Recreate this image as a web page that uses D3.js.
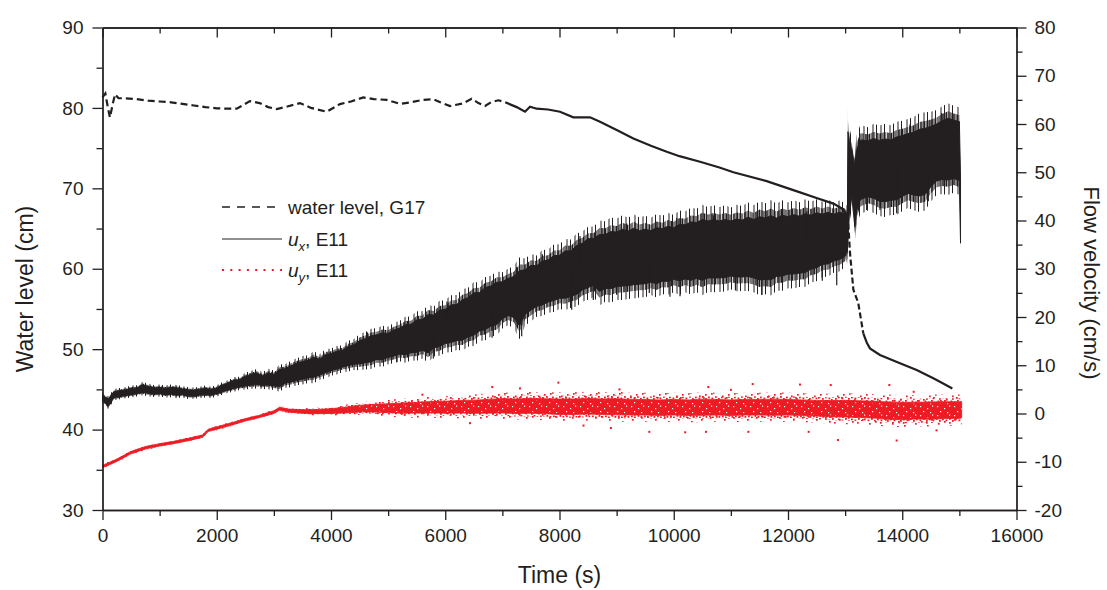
<!DOCTYPE html>
<html>
<head>
<meta charset="utf-8">
<script src="https://cdn.jsdelivr.net/npm/d3@7"></script>
<style>
  html, body { margin: 0; padding: 0; background: #fff; }
  svg { display: block; font-family: "Liberation Sans", Arial, Helvetica, sans-serif; }
</style>
</head>
<body>
<svg id="chart" width="1107" height="590"></svg>
<script>
// ---------------- data ----------------
const timeTicks = [0, 2000, 4000, 6000, 8000, 10000, 12000, 14000, 16000];
const timeMinorTicks = [1000, 3000, 5000, 7000, 9000, 11000, 13000, 15000];
const levelTicks = [30, 40, 50, 60, 70, 80, 90];
const levelMinorTicks = [35, 45, 55, 65, 75, 85];
const velocityTicks = [-20, -10, 0, 10, 20, 30, 40, 50, 60, 70, 80];
const velocityMinorTicks = [-15, -5, 5, 15, 25, 35, 45, 55, 65, 75];

// water level at gauge G17 (cm)
const levelTime = [0, 50, 90, 130, 180, 220, 280, 400, 600, 800, 1000, 1200, 1400, 1600, 1800, 2000,
  2200, 2350, 2450, 2580, 2750, 2900, 3050, 3250, 3457, 3650, 3925, 4157, 4350, 4566, 4750, 4975,
  5208, 5400, 5600, 5791, 5950, 6083, 6316, 6462, 6580, 6696, 6800, 6929, 7050, 7250, 7396, 7484,
  7600, 7800, 8009, 8242, 8534, 8700, 9001, 9293, 9600, 9877, 10100, 10460, 10800, 11044, 11627,
  12210, 12500, 12794, 12969, 13020, 13056, 13086, 13144, 13202, 13231, 13318, 13380, 13435, 13610,
  13960, 14252, 14544, 14700, 14877];
const levelValue = [81.3, 81.8, 80.2, 78.8, 80.5, 81.7, 81.2, 81.2, 81.1, 80.9, 80.8, 80.7, 80.5, 80.3, 80.1, 79.95,
  79.9, 79.9, 80.3, 80.85, 80.6, 80.1, 79.86, 80.2, 80.6, 80.0, 79.53, 80.48, 80.8, 81.3, 81.1, 81.0,
  80.5, 80.7, 81.0, 81.07, 80.6, 80.24, 80.57, 81.15, 80.6, 80.24, 80.7, 80.95, 80.7, 80.1, 79.53, 80.15,
  79.9, 79.8, 79.53, 78.83, 78.83, 78.3, 77.25, 76.2, 75.3, 74.55, 74.0, 73.3, 72.6, 72.0, 70.9,
  69.5, 68.8, 68.1, 67.4, 66.7, 65.5, 61.9, 57.4, 56.3, 55.7, 51.97, 50.8, 50.1, 49.27,
  48.24, 47.4, 46.37, 45.8, 45.12];

// streamwise velocity u_x at E11 (cm/s): lower / upper edge of the fluctuation band
const uxTime = [0, 100, 200, 300, 400, 500, 600, 700, 800, 900, 1000, 1100, 1200, 1300, 1400, 1500,
  1600, 1700, 1800, 1900, 2000, 2100, 2200, 2300, 2400, 2500, 2600, 2700, 2800, 2900, 3000, 3100,
  3200, 3300, 3400, 3500, 3600, 3700, 3800, 3900, 4000, 4100, 4200, 4300, 4400, 4500, 4600, 4700,
  4800, 4900, 5000, 5100, 5200, 5300, 5400, 5500, 5600, 5700, 5800, 5900, 6000, 6100, 6200, 6300,
  6400, 6500, 6600, 6700, 6800, 6900, 7000, 7100, 7200, 7300, 7400, 7500, 7600, 7700, 7800, 7900,
  8000, 8100, 8200, 8300, 8400, 8500, 8600, 8700, 8800, 8900, 9000, 9100, 9200, 9300, 9400, 9500,
  9600, 9700, 9800, 9900, 10000, 10100, 10200, 10300, 10400, 10500, 10600, 10700, 10800, 10900,
  11000, 11100, 11200, 11300, 11400, 11500, 11600, 11700, 11800, 11900, 12000, 12100, 12200, 12300,
  12400, 12500, 12600, 12700, 12800, 12900, 13000, 13040, 13050, 13080, 13120, 13170, 13200, 13260,
  13300, 13400, 13500, 13600, 13700, 13800, 13900, 14000, 14100, 14200, 14300, 14400, 14500, 14600,
  14700, 14800, 14900, 15000, 15020];
const uxHigh = [3.9, 2.9, 4.5, 4.7, 4.9, 5.2, 5.3, 5.9, 5.6, 5.3, 5.4, 5.2, 5.4, 5.3, 5.1, 4.9,
  4.8, 5.0, 5.2, 5.0, 5.3, 5.9, 6.3, 6.9, 7.0, 7.7, 8.1, 8.4, 7.8, 8.4, 8.1, 9.1,
  9.3, 9.9, 10.4, 10.8, 11.0, 11.7, 11.2, 12.2, 12.4, 12.9, 13.1, 13.9, 14.2, 15.1, 15.5, 16.1,
  16.3, 16.7, 16.6, 17.3, 17.7, 18.4, 18.5, 19.4, 19.5, 20.5, 20.4, 21.4, 21.6, 22.5, 22.6, 23.6,
  24.0, 25.0, 25.1, 26.1, 26.4, 27.2, 27.3, 28.0, 28.4, 29.6, 29.8, 30.7, 30.6, 31.6, 31.8, 32.7,
  32.8, 33.7, 33.7, 34.8, 35.3, 36.2, 36.3, 37.1, 37.1, 37.7, 37.6, 38.2, 37.8, 38.4, 37.9, 38.2,
  37.9, 38.5, 38.3, 38.8, 38.5, 39.2, 39.1, 39.7, 39.6, 40.2, 39.9, 40.2, 39.9, 40.2,
  39.9, 40.3, 40.1, 40.7, 40.2, 40.8, 40.5, 41.0, 40.5, 41.1, 40.8, 41.2, 40.9, 41.4,
  41.1, 41.6, 41.3, 41.7, 41.3, 41.7, 41.4, 41.0, 58.4, 55.8, 54.6, 51.2, 54.5, 56.6,
  56.7, 56.5, 57.0, 56.6, 56.9, 56.7, 57.3, 57.6, 58.0, 58.3, 58.9, 59.1, 59.5, 60.0,
  60.7, 61.2, 60.8, 60.5, 48.5];
const uxLow = [2.7, 1.5, 3.3, 3.5, 3.7, 3.9, 4.1, 4.4, 4.2, 4.0, 4.1, 3.9, 4.0, 3.8, 3.9, 3.6,
  3.6, 3.8, 3.9, 3.8, 4.1, 4.5, 4.9, 5.2, 5.5, 5.7, 5.9, 6.0, 5.8, 5.9, 5.7, 5.6,
  6.3, 6.5, 6.9, 7.1, 7.4, 7.5, 8.0, 8.4, 8.9, 9.2, 9.6, 9.9, 10.2, 10.3, 10.5, 10.7,
  11.2, 11.2, 11.6, 11.9, 12.3, 12.2, 12.6, 12.7, 13.1, 12.6, 13.6, 13.9, 14.5, 14.7, 15.1, 15.2,
  15.9, 16.2, 17.1, 17.4, 18.1, 18.4, 19.6, 20.3, 19.9, 18.2, 20.6, 21.4, 22.2, 22.5, 23.1, 23.4,
  23.9, 23.9, 24.3, 24.7, 25.6, 26.1, 26.6, 25.3, 25.9, 25.9, 26.3, 26.4, 26.5, 26.7, 26.8, 26.9,
  27.2, 26.9, 27.4, 27.4, 27.8, 27.5, 27.9, 27.6, 28.0, 27.6, 28.1, 28.1, 28.1, 28.2,
  28.5, 28.3, 28.3, 28.4, 28.1, 27.7, 27.8, 27.7, 28.4, 28.5, 28.9, 28.9, 29.1, 29.2,
  29.9, 30.2, 30.9, 31.0, 31.6, 31.9, 32.6, 34.0, 36.0, 43.0, 44.9, 38.7, 42.0, 44.2,
  44.5, 44.9, 44.6, 44.0, 43.9, 44.2, 44.3, 45.0, 45.6, 45.3, 45.1, 45.4, 47.0, 48.2,
  48.5, 48.4, 48.7, 48.3, 35.3];
// isolated u_x peaks beyond the band
const uxSpikeTime = [4640, 5150, 5791, 6030, 6820, 7250, 7338, 7700, 8213, 8359, 8592, 9000, 9176, 9572,
  9934, 10052, 10110, 10693, 11080, 11540, 11900, 12328, 12600, 12853, 13377, 13610, 13902, 14135,
  14456, 14486, 14690, 14880];
const uxSpikeValue = [16.8, 10.6, 11.4, 23.2, 15.7, 30.3, 16.0, 33.0, 21.5, 36.8, 23.5, 24.6, 39.4, 25.0,
  24.2, 40.5, 24.3, 41.1, 25.5, 24.6, 41.8, 41.9, 27.5, 26.6, 42.2, 42.2, 41.5, 59.9,
  44.0, 60.9, 62.3, 61.8];

// transverse velocity u_y at E11 (cm/s): centre and half spread of the scatter
const uyTime = [0, 250, 500, 750, 1000, 1250, 1500, 1750, 1850, 2000, 2250, 2500, 2750, 3000, 3100, 3250,
  3500, 3750, 4000, 4250, 4500, 4750, 5000, 5250, 5500, 5750, 6000, 6250, 6500, 6750, 7000, 7250,
  7500, 7750, 8000, 8250, 8500, 8750, 9000, 9250, 9500, 9750, 10000, 10250, 10500, 10750, 11000,
  11250, 11500, 11750, 12000, 12250, 12500, 12750, 13000, 13250, 13500, 13750, 14000, 14250, 14500,
  14750, 15000, 15040];
const uyMid = [-11.0, -9.7, -8.1, -7.1, -6.5, -6.0, -5.4, -4.7, -3.5, -3.0, -2.2, -1.3, -0.6, 0.3, 1.0, 0.6,
  0.4, 0.4, 0.5, 0.7, 1.0, 1.1, 1.1, 1.1, 1.2, 1.3, 1.3, 1.4, 1.4, 1.5, 1.6, 1.5,
  1.6, 1.5, 1.4, 1.4, 1.5, 1.4, 1.4, 1.3, 1.3, 1.2, 1.3, 1.2, 1.3, 1.3, 1.2,
  1.3, 1.3, 1.3, 1.3, 1.2, 1.1, 1.0, 1.0, 0.9, 0.8, 0.6, 0.5, 0.6, 0.6,
  0.7, 0.7, 0.8];
const uySpread = [0.4, 0.4, 0.4, 0.4, 0.4, 0.4, 0.4, 0.4, 0.4, 0.4, 0.4, 0.4, 0.4, 0.45, 0.5, 0.5,
  0.6, 0.7, 0.8, 0.95, 1.1, 1.3, 1.5, 1.7, 1.8, 1.9, 2.0, 2.1, 2.2, 2.3, 2.4, 2.4,
  2.5, 2.5, 2.6, 2.6, 2.6, 2.6, 2.7, 2.6, 2.6, 2.6, 2.6, 2.6, 2.7, 2.6, 2.6,
  2.6, 2.6, 2.7, 2.6, 2.6, 2.6, 2.7, 2.8, 2.8, 2.8, 2.9, 2.9, 2.8, 2.9,
  2.8, 2.8, 2.7];
const uyOutlierTime = [5600, 6433, 6823, 7308, 7980, 8420, 8900, 9050, 9572, 10200, 10565, 10605, 11000,
  11306, 11382, 12210, 12362, 12748, 12875, 13774, 13902, 14200, 14600];
const uyOutlierValue = [3.9, -2.0, 5.5, 5.2, 6.4, -2.5, -3.0, 5.0, -3.8, -3.9, -3.8, 5.5, 4.9,
  -3.8, 6.1, 6.0, -3.8, 5.9, -5.5, 5.9, -5.6, 4.5, -3.5];

// ---------------- layout ----------------
const ink = "#231f20";
const red = "#ed1c24";
const plot = { left: 102.5, right: 1016.5, top: 27.5, bottom: 510 };

const svg = d3.select("#chart");
const x = d3.scaleLinear().domain([0, 16000]).range([plot.left, plot.right]);
const yL = d3.scaleLinear().domain([30, 90]).range([plot.bottom, plot.top]);
const yR = d3.scaleLinear().domain([-20, 80]).range([plot.bottom, plot.top]);

// ---- textures ----
const defs = svg.append("defs");
function dotPattern(id, w, h, pts, color, size) {
  const p = defs.append("pattern").attr("id", id)
    .attr("patternUnits", "userSpaceOnUse").attr("width", w).attr("height", h);
  pts.forEach(([px, py]) => p.append("rect").attr("x", px).attr("y", py)
    .attr("width", size).attr("height", size).attr("fill", color));
}
// sparse red specks for the fringe of the u_y cloud
dotPattern("speckOuter", 23, 17,
  [[0, 1], [7, 0], [15, 3], [20, 9], [3, 8], [11, 11], [18, 15], [6, 14], [13, 6], [1, 13], [9, 4.5], [21, 2]],
  red, 1.7);
// denser red specks for the middle layer
dotPattern("speckInner", 13, 11,
  [[0, 0], [3, 2], [6, 0.5], [9.5, 1.5], [1.5, 4.5], [5, 5.5], [8, 4], [11, 6], [0.5, 8], [3.5, 9],
   [7, 8.5], [10, 9.5]], red, 1.8);
// white pinholes inside the dense core
dotPattern("pinholes", 17, 9,
  [[2, 1], [9, 3], [14, 0.5], [5, 6], [12, 7]], "#fff", 1.2);

// vertical hairs along the edges of the u_x band
function hairPattern(id, w, xs) {
  const p = defs.append("pattern").attr("id", id)
    .attr("patternUnits", "userSpaceOnUse").attr("width", w).attr("height", 4);
  xs.forEach(px => p.append("rect").attr("x", px).attr("y", 0)
    .attr("width", 1).attr("height", 4).attr("fill", ink));
}
hairPattern("hairDense", 11, [0, 1.6, 3.4, 4.6, 6.8, 8.2, 9.6]);
hairPattern("hairSparse", 17, [0, 5.5, 9, 13.5]);

const marks = svg.append("g");

// u_y scatter: speckled fringe, denser middle layer, solid core
const uyIdx = d3.range(uyTime.length);
const uyBand = f => d3.area()
  .x(i => x(uyTime[i]))
  .y0(i => yR(uyMid[i] - uySpread[i] * f))
  .y1(i => yR(uyMid[i] + uySpread[i] * f));
marks.append("path").datum(uyIdx).attr("fill", "url(#speckOuter)").attr("d", uyBand(1.15));
marks.append("path").datum(uyIdx).attr("fill", "url(#speckInner)").attr("d", uyBand(0.88));
marks.append("path").datum(uyIdx).attr("fill", red).attr("stroke", red).attr("stroke-width", 0.8)
  .attr("d", uyBand(0.62));
marks.append("path").datum(uyIdx.filter(i => uyTime[i] >= 4500))
  .attr("fill", "url(#pinholes)").attr("d", uyBand(0.5));
marks.append("g").selectAll("rect").data(d3.range(uyOutlierTime.length)).join("rect")
  .attr("x", i => x(uyOutlierTime[i]) - 1)
  .attr("y", i => yR(uyOutlierValue[i]) - 1)
  .attr("width", 2).attr("height", 2).attr("fill", red);

// u_x band: hairy fringes, solid core, isolated peaks
const uxIdx = d3.range(uxTime.length);
const uxBand = (f, pad) => d3.area()
  .x(i => x(uxTime[i]))
  .y0(i => yR(uxLow[i] - (uxHigh[i] - uxLow[i]) * f - pad))
  .y1(i => yR(uxHigh[i] + (uxHigh[i] - uxLow[i]) * f + pad));
marks.append("path").datum(uxIdx).attr("fill", "url(#hairSparse)").attr("d", uxBand(0.22, 0.3));
marks.append("path").datum(uxIdx).attr("fill", "url(#hairDense)").attr("d", uxBand(0.1, 0.15));
marks.append("path").datum(uxIdx)
  .attr("fill", ink).attr("stroke", ink).attr("stroke-width", 1)
  .attr("d", uxBand(0, 0));
marks.append("g").selectAll("line").data(d3.range(uxSpikeTime.length)).join("line")
  .attr("x1", i => x(uxSpikeTime[i])).attr("x2", i => x(uxSpikeTime[i]))
  .attr("y1", i => {
    const k = d3.bisectCenter(uxTime, uxSpikeTime[i]);
    return yR((uxLow[k] + uxHigh[k]) / 2);
  })
  .attr("y2", i => yR(uxSpikeValue[i]))
  .attr("stroke", ink).attr("stroke-width", 1.2);

// water level: dashed where the dash pattern shows, solid elsewhere
const levelStyle = [
  { from: 0, to: 7050, dash: "7,4" },
  { from: 7050, to: 13020, dash: null },
  { from: 13020, to: 13318, dash: "6,3" },
  { from: 13318, to: 15000, dash: null }
];
const levelLine = d3.line().x(i => x(levelTime[i])).y(i => yL(levelValue[i]));
levelStyle.forEach(s => {
  const idx = d3.range(levelTime.length).filter(i => levelTime[i] >= s.from && levelTime[i] <= s.to);
  marks.append("path").datum(idx)
    .attr("fill", "none").attr("stroke", ink).attr("stroke-width", 2.2)
    .attr("stroke-dasharray", s.dash)
    .attr("d", levelLine);
});

// ---------------- axes ----------------
const plain = d => String(d);
function styleAxis(g) {
  g.selectAll("path, line").attr("stroke", ink).attr("stroke-width", 1.3);
  g.selectAll("text").attr("fill", ink).attr("font-size", 19)
    .attr("font-family", '"Liberation Sans", Arial, Helvetica, sans-serif');
}
const axes = svg.append("g");

axes.append("g").attr("transform", `translate(0,${plot.bottom})`)
  .call(d3.axisBottom(x).tickValues(timeTicks).tickFormat(plain).tickSize(10).tickSizeOuter(0).tickPadding(9))
  .call(styleAxis);
axes.append("g").attr("transform", `translate(0,${plot.bottom})`)
  .call(d3.axisBottom(x).tickValues(timeMinorTicks).tickFormat("").tickSize(6).tickSizeOuter(0))
  .call(styleAxis);
axes.append("g").attr("transform", `translate(0,${plot.top})`)
  .call(d3.axisBottom(x).tickValues(timeTicks).tickFormat("").tickSize(10).tickSizeOuter(0))
  .call(styleAxis);
axes.append("g").attr("transform", `translate(0,${plot.top})`)
  .call(d3.axisBottom(x).tickValues(timeMinorTicks).tickFormat("").tickSize(6).tickSizeOuter(0))
  .call(styleAxis);

axes.append("g").attr("transform", `translate(${plot.left},0)`)
  .call(d3.axisLeft(yL).tickValues(levelTicks).tickFormat(plain).tickSize(10).tickSizeOuter(0).tickPadding(9))
  .call(styleAxis);
axes.append("g").attr("transform", `translate(${plot.left},0)`)
  .call(d3.axisLeft(yL).tickValues(levelMinorTicks).tickFormat("").tickSize(6).tickSizeOuter(0))
  .call(styleAxis);

axes.append("g").attr("transform", `translate(${plot.right},0)`)
  .call(d3.axisRight(yR).tickValues(velocityTicks).tickFormat(plain).tickSize(10).tickSizeOuter(0).tickPadding(8))
  .call(styleAxis);
axes.append("g").attr("transform", `translate(${plot.right},0)`)
  .call(d3.axisRight(yR).tickValues(velocityMinorTicks).tickFormat("").tickSize(6).tickSizeOuter(0))
  .call(styleAxis);

// axis titles
svg.append("text").attr("x", (plot.left + plot.right) / 2).attr("y", 583)
  .attr("text-anchor", "middle").attr("font-size", 23).attr("fill", ink).text("Time (s)");
svg.append("text").attr("transform", "translate(33,289) rotate(-90)")
  .attr("text-anchor", "middle").attr("font-size", 23).attr("fill", ink).text("Water level (cm)");
svg.append("text").attr("transform", "translate(1084,283) rotate(90)")
  .attr("text-anchor", "middle").attr("font-size", 22).attr("fill", ink).text("Flow velocity (cm/s)");

// ---------------- legend ----------------
const legend = svg.append("g");
const lx0 = 222, lx1 = 282, tx = 288;
legend.append("line").attr("x1", lx0).attr("x2", lx1).attr("y1", 207).attr("y2", 207)
  .attr("stroke", ink).attr("stroke-width", 1.6).attr("stroke-dasharray", "8,7");
legend.append("text").attr("x", tx).attr("y", 214).attr("font-size", 19).attr("fill", ink)
  .text("water level, G17");

legend.append("line").attr("x1", lx0).attr("x2", lx1).attr("y1", 239).attr("y2", 239)
  .attr("stroke", ink).attr("stroke-width", 1.2);
const t2 = legend.append("text").attr("x", tx).attr("y", 246).attr("font-size", 19).attr("fill", ink);
t2.append("tspan").attr("font-style", "italic").text("u");
t2.append("tspan").attr("font-style", "italic").attr("font-size", 13).attr("dy", 5).text("x");
t2.append("tspan").attr("dy", -5).text(", E11");

legend.append("line").attr("x1", lx0).attr("x2", lx1).attr("y1", 270).attr("y2", 270)
  .attr("stroke", red).attr("stroke-width", 2).attr("stroke-dasharray", "2,6.3");
const t3 = legend.append("text").attr("x", tx).attr("y", 277).attr("font-size", 19).attr("fill", ink);
t3.append("tspan").attr("font-style", "italic").text("u");
t3.append("tspan").attr("font-style", "italic").attr("font-size", 13).attr("dy", 5).text("y");
t3.append("tspan").attr("dy", -5).text(", E11");
</script>
</body>
</html>
